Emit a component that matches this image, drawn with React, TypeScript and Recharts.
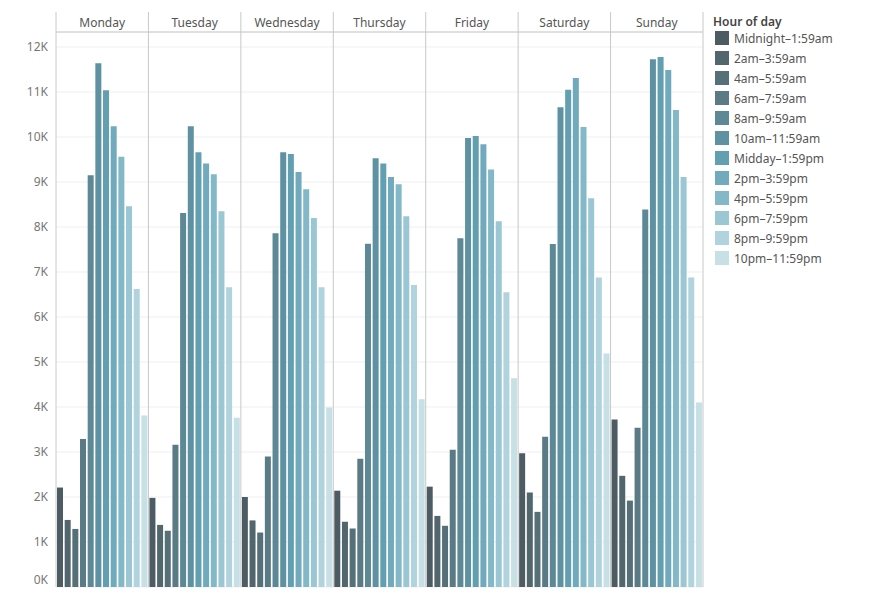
import { BarChart, Bar, XAxis, YAxis, CartesianGrid } from 'recharts';

const DAYS = ['Monday', 'Tuesday', 'Wednesday', 'Thursday', 'Friday', 'Saturday', 'Sunday'];

const HOURS = [
  'Midnight–1:59am', '2am–3:59am', '4am–5:59am', '6am–7:59am', '8am–9:59am', '10am–11:59am',
  'Midday–1:59pm', '2pm–3:59pm', '4pm–5:59pm', '6pm–7:59pm', '8pm–9:59pm', '10pm–11:59pm',
];

const COLORS = [
  '#4d5c63', '#52666e', '#567079', '#5a7b86', '#5d8896', '#5e92a2',
  '#629fb1', '#70aabc', '#82b8c8', '#9bc6d4', '#b0d3dd', '#c6e0e6',
];

// trips per 2-hour slot, one array per day
const MONDAY = [2210, 1490, 1290, 3290, 9150, 11640, 11040, 10240, 9560, 8460, 6620, 3810];
const TUESDAY = [1980, 1380, 1250, 3160, 8310, 10240, 9660, 9410, 9170, 8350, 6660, 3760];
const WEDNESDAY = [2000, 1480, 1210, 2900, 7860, 9660, 9620, 9220, 8840, 8200, 6660, 3990];
const THURSDAY = [2140, 1450, 1300, 2850, 7630, 9530, 9410, 9110, 8950, 8240, 6710, 4170];
const FRIDAY = [2230, 1580, 1360, 3050, 7750, 9980, 10020, 9840, 9280, 8130, 6550, 4640];
const SATURDAY = [2970, 2100, 1670, 3340, 7620, 10660, 11050, 11310, 10220, 8640, 6880, 5190];
const SUNDAY = [3720, 2470, 1920, 3540, 8390, 11730, 11780, 11490, 10600, 9110, 6880, 4100];

const Y_TICKS = [0, 1000, 2000, 3000, 4000, 5000, 6000, 7000, 8000, 9000, 10000, 11000, 12000];

const SERIES = [MONDAY, TUESDAY, WEDNESDAY, THURSDAY, FRIDAY, SATURDAY, SUNDAY];

const data = DAYS.map((day, i) => {
  const row: Record<string, string | number> = { day };
  SERIES[i].forEach((v, h) => { row['h' + h] = v; });
  return row;
});

const CHART_W = 705;
const CHART_H = 600;
const MARGIN = { top: 12, right: 2, bottom: 13, left: 0 };
const HEADER_H = 20;
const PLOT_BOTTOM = CHART_H - MARGIN.bottom;
const FONT = '"Noto Sans", Arial, sans-serif';
const BORDER = '#c8c8c8';

function DayTick(props: any) {
  const { x, payload, index } = props;
  const half = payload.offset ?? (CHART_W - 56 - MARGIN.right) / DAYS.length / 2;
  const top = MARGIN.top;
  return (
    <g>
      <line x1={x - half} x2={x - half} y1={top} y2={PLOT_BOTTOM} stroke={BORDER} />
      {index === DAYS.length - 1 && (
        <line x1={x + half} x2={x + half} y1={top} y2={PLOT_BOTTOM} stroke={BORDER} />
      )}
      <text x={x} y={top + HEADER_H / 2} textAnchor="middle" dominantBaseline="central"
        fill="#555" fontSize={12} fontFamily={FONT}>
        {payload.value}
      </text>
    </g>
  );
}

// the bottom label sits a little above its gridline so it stays inside the pane
function ValueTick(props: any) {
  const { x, y, payload } = props;
  const lift = payload.value === 0 ? -8 : 0;
  return (
    <text x={x} y={y + lift} textAnchor="end" dominantBaseline="central"
      fill="#777" fontSize={12} fontFamily={FONT}>
      {payload.value / 1000 + 'K'}
    </text>
  );
}

export default function App() {
  return (
    <div style={{ position: 'relative', width: 890, height: 600, margin: -8, background: '#fff', fontFamily: FONT }}>
      <div style={{ position: 'absolute', left: 0, top: 0 }}>
        <BarChart width={CHART_W} height={CHART_H} data={data} margin={MARGIN} barSize={6} barGap={1.67}>
          <CartesianGrid vertical={false} stroke="#efefef" />
          <XAxis dataKey="day" orientation="top" height={HEADER_H} axisLine={{ stroke: BORDER }}
            tickLine={false} tick={<DayTick />} interval={0} />
          <XAxis xAxisId="bottom" dataKey="day" orientation="bottom" height={0} tick={false}
            tickLine={false} axisLine={{ stroke: '#dcdcdc' }} />
          <YAxis width={56} domain={[0, 12333]} ticks={Y_TICKS} allowDataOverflow
            axisLine={false} tickLine={false} tick={<ValueTick />} />
          {HOURS.map((h, i) => (
            <Bar key={h} dataKey={'h' + i} name={h} fill={COLORS[i]} isAnimationActive={false} />
          ))}
        </BarChart>
      </div>
      <div style={{ position: 'absolute', left: 713, top: 14, fontSize: 12, color: '#555' }}>
        <div style={{ fontWeight: 600, color: '#444', height: 14, lineHeight: '16px' }}>Hour of day</div>
        {HOURS.map((h, i) => (
          <div key={h} style={{ display: 'flex', alignItems: 'center', height: 20 }}>
            <span style={{ width: 14, height: 14, marginLeft: 2, marginRight: 5, background: COLORS[i], display: 'inline-block' }} />
            <span>{h}</span>
          </div>
        ))}
      </div>
    </div>
  );
}
